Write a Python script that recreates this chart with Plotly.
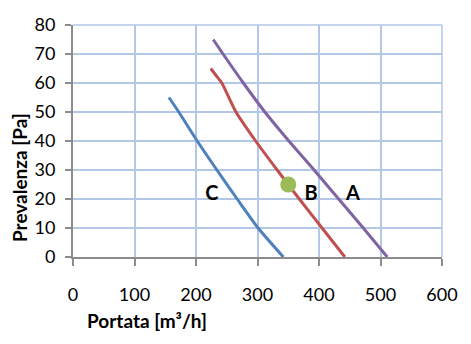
import plotly.graph_objects as go

# Curve A (purple)
a_x = [228, 244, 277, 312, 351, 392, 432, 472, 511]
a_y = [75, 70, 60, 50, 40, 30, 20, 10, 0]
# Curve B (red)
b_x = [224, 233, 242, 265, 297, 332, 350, 368, 405, 442]
b_y = [65, 62.5, 60, 50, 40, 30, 25, 20, 10, 0]
# Curve C (blue)
c_x = [156, 172, 202, 234, 267, 301, 342]
c_y = [55, 50, 40, 30, 20, 10, 0]
# Working point
pt_x = [350]
pt_y = [25]

labels = ["A", "B", "C"]
label_x = [455, 387, 226]
label_y = [21.5, 21.5, 21.5]

x_ticks = [0, 100, 200, 300, 400, 500, 600]
y_ticks = [0, 10, 20, 30, 40, 50, 60, 70, 80]

FONT = "Lato, 'Open Sans', sans-serif"
GRID = "#B3C7E7"
AXIS = "#8C8C8C"

fig = go.Figure()
for xs, ys, col in [(a_x, a_y, "#8064A2"), (b_x, b_y, "#C0504D"), (c_x, c_y, "#4F81BD")]:
    fig.add_trace(go.Scatter(x=xs, y=ys, mode="lines",
                             line=dict(color=col, width=3, shape="spline", smoothing=0.6),
                             showlegend=False))
fig.add_trace(go.Scatter(x=pt_x, y=pt_y, mode="markers", marker=dict(color="#9BBB59", size=16), showlegend=False))
fig.add_trace(go.Scatter(x=label_x, y=label_y, mode="text", text=labels,
                         textfont=dict(family=FONT, size=20, color="black", weight="bold"),
                         showlegend=False))

fig.update_layout(
    width=471, height=344,
    margin=dict(l=73, r=29, t=25, b=87),
    paper_bgcolor="white", plot_bgcolor="white",
    font=dict(family=FONT, size=18, color="black"),
    xaxis=dict(range=[0, 600], tickvals=x_ticks, showgrid=True, gridcolor=GRID, gridwidth=1.5,
               showline=True, linecolor=AXIS, linewidth=2, ticks="outside", ticklen=7,
               tickcolor=AXIS, tickwidth=1.5, zeroline=False, ticklabelstandoff=13,
               mirror=False),
    yaxis=dict(range=[0, 80], tickvals=y_ticks, showgrid=True, gridcolor=GRID, gridwidth=1.5,
               showline=True, linecolor=AXIS, linewidth=2, ticks="outside", ticklen=6,
               tickcolor=AXIS, tickwidth=1.5, zeroline=False, ticklabelstandoff=6),
    annotations=[
        dict(text="<b>Portata [m³/h]</b>", xref="paper", yref="paper", x=(147 - 73) / 369, y=-(320 - 257) / 232,
             showarrow=False, xanchor="center", yanchor="middle", font=dict(family=FONT, size=19)),
        dict(text="<b>Prevalenza [Pa]</b>", xref="paper", yref="paper", x=-(73 - 19) / 369, y=(257 - 178) / 232,
             showarrow=False, xanchor="center", yanchor="middle", textangle=-90, font=dict(family=FONT, size=19)),
    ],
    shapes=[
        dict(type="line", xref="paper", yref="paper", x0=0, x1=1, y0=1, y1=1, line=dict(color=GRID, width=1.5)),
        dict(type="line", xref="paper", yref="paper", x0=1, x1=1, y0=0, y1=1, line=dict(color=GRID, width=1.5)),
    ],
)

fig.write_html("out.html")
